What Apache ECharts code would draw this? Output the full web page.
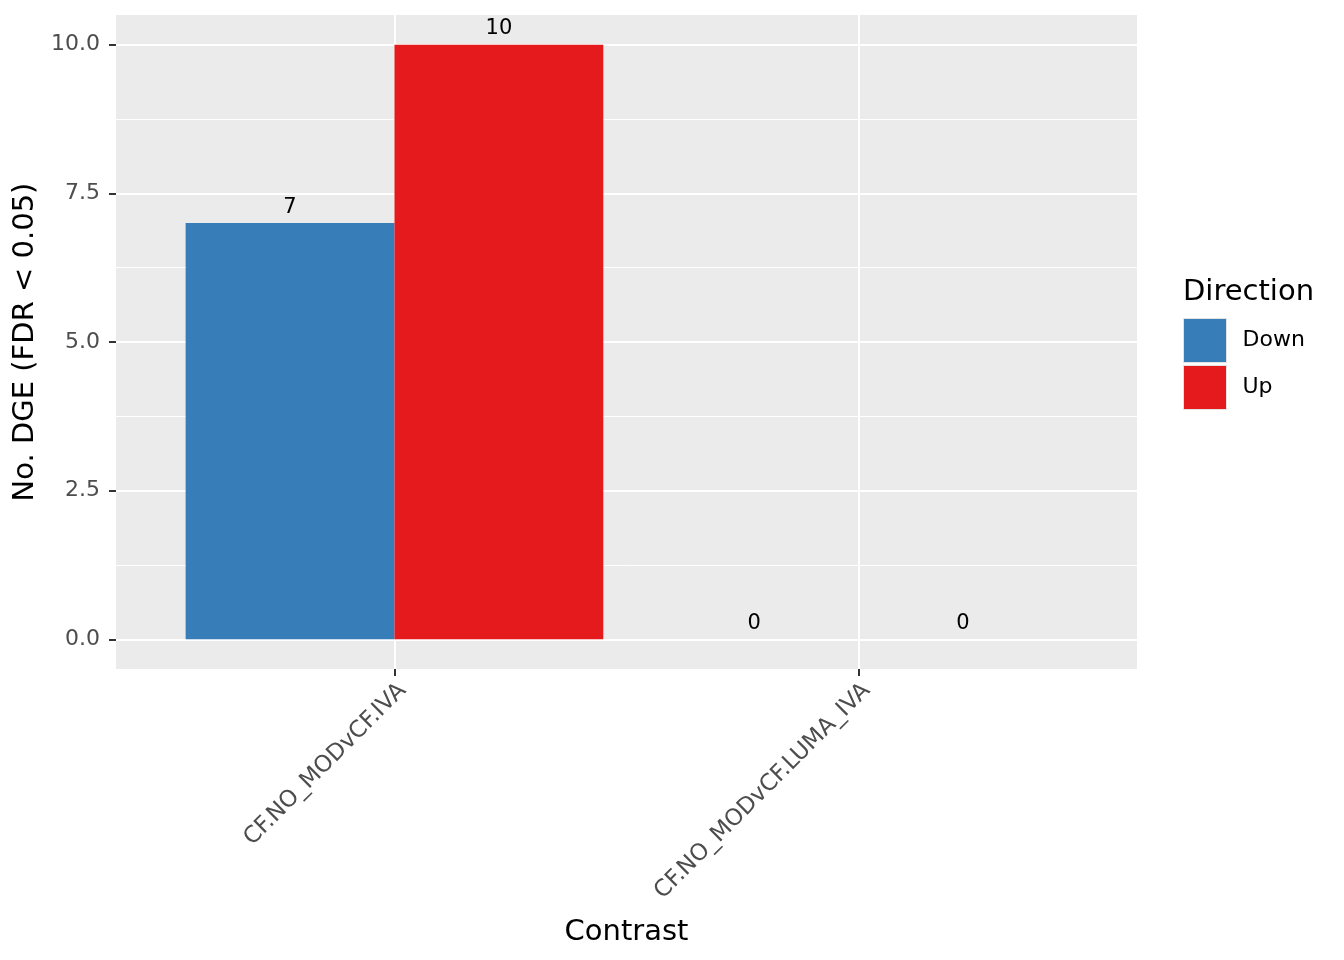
<!DOCTYPE html>
<html><head><meta charset="utf-8">
<script src="https://cdn.jsdelivr.net/npm/echarts@6/dist/echarts.min.js"></script>
<style>html,body{margin:0;padding:0;background:#fff}#c{width:1344px;height:960px}</style>
</head><body><div id="c"></div>
<script>
const categories = ['CF.NO_MODvCF.IVA', 'CF.NO_MODvCF.LUMA_IVA'];
const directions = ['Down', 'Up'];
const downValues = [7, 0];
const upValues = [10, 0];
const yTicks = [0, 2.5, 5, 7.5, 10];
const yMinor = [1.25, 3.75, 6.25, 8.75];
const xTicks = [1, 2];
const colors = ['#377EB8', '#E41A1C'];
const FONT = '"DejaVu Sans", sans-serif';

const chart = echarts.init(document.getElementById('c'), null, {renderer: 'canvas'});

function makeSeries(dirIdx, values) {
  return {
    type: 'custom',
    name: directions[dirIdx],
    xAxisIndex: 0, yAxisIndex: 0,
    itemStyle: {color: colors[dirIdx]},
    encode: {x: 0, y: 1},
    data: values.map((v, i) => [xTicks[i], v]),
    renderItem: function (params, api) {
      const c = api.value(0), v = api.value(1);
      const x0 = c - 0.45 + dirIdx * 0.45;
      const p0 = api.coord([x0, v]);
      const p1 = api.coord([x0 + 0.45, 0]);
      return {
        type: 'group',
        children: [
          {type: 'rect', shape: {x: p0[0], y: p0[1], width: p1[0] - p0[0], height: p1[1] - p0[1]},
           style: {fill: colors[dirIdx]}},
          {type: 'text', style: {text: String(v), x: (p0[0] + p1[0]) / 2, y: p0[1] - 16,
            align: 'center', verticalAlign: 'middle', fill: '#000000', fontSize: 21, fontFamily: FONT}}
        ]
      };
    }
  };
}

const option = {
  animation: false,
  backgroundColor: '#ffffff',
  textStyle: {fontFamily: FONT},
  grid: {left: 116, top: 15, right: 207, bottom: 291, show: true, backgroundColor: '#EBEBEB', borderWidth: 0,
    containLabel: false, outerBoundsMode: 'none'},
  xAxis: {
    type: 'value', min: 0.4, max: 2.6, position: 'bottom',
    name: 'Contrast', nameLocation: 'middle', nameGap: 249,
    nameTextStyle: {fontSize: 29, color: '#000000', fontFamily: FONT},
    axisLine: {show: false, onZero: false},
    axisTick: {show: true, length: 7, lineStyle: {color: '#333333', width: 2}, customValues: xTicks},
    axisLabel: {customValues: xTicks, rotate: 45, margin: 10, fontSize: 23, color: '#4D4D4D', fontFamily: FONT,
      align: 'right', verticalAlign: 'top',
      formatter: v => categories[Math.round(v) - 1] || ''},
    splitLine: {show: true, lineStyle: {color: '#ffffff', width: 2}}
  },
  yAxis: [{
    type: 'value', min: -0.5, max: 10.5, position: 'left',
    name: 'No. DGE (FDR < 0.05)', nameLocation: 'middle', nameGap: 66,
    nameTextStyle: {fontSize: 29, color: '#000000', fontFamily: FONT},
    axisLine: {show: false, onZero: false},
    axisTick: {show: true, length: 7, lineStyle: {color: '#333333', width: 2}, customValues: yTicks},
    axisLabel: {customValues: yTicks, margin: 16, fontSize: 22, color: '#4D4D4D', fontFamily: FONT,
      formatter: v => v.toFixed(1)},
    splitLine: {show: true, lineStyle: {color: '#ffffff', width: 2}},
    z: 1
  }, {
    type: 'value', min: -0.5, max: 10.5, position: 'left',
    axisLine: {show: false, onZero: false},
    axisTick: {show: false, customValues: yMinor},
    axisLabel: {show: false, customValues: yMinor},
    splitLine: {show: true, lineStyle: {color: '#ffffff', width: 1}},
    z: 0
  }],
  legend: {
    left: 1183, top: 318, orient: 'vertical', padding: 0,
    itemWidth: 43, itemHeight: 44, itemGap: 2, icon: 'rect',
    data: directions,
    itemStyle: {borderColor: '#E3E3E3', borderWidth: 1},
    textStyle: {fontSize: 22, color: '#000000', fontFamily: FONT, padding: [0, 0, 0, 11]}
  },
  graphic: [{
    type: 'text', left: 1183, top: 278,
    style: {text: 'Direction', fontSize: 29, fill: '#000000', fontFamily: FONT}
  }],
  series: [makeSeries(0, downValues), makeSeries(1, upValues)]
};
chart.setOption(option);
</script>
</body></html>
